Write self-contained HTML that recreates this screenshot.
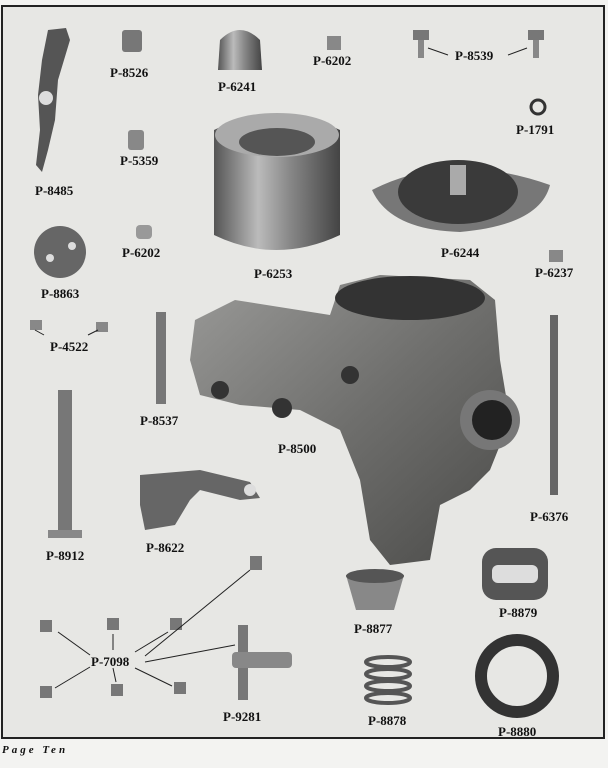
<!DOCTYPE html>
<html><head><meta charset="utf-8"><style>
html,body{margin:0;padding:0;background:#f3f3f1;}
svg{display:block}
text{font-family:"Liberation Serif",serif;font-weight:bold;font-size:13px;fill:#111}
</style></head><body>
<svg width="608" height="768" viewBox="0 0 608 768" xmlns="http://www.w3.org/2000/svg">
<defs>
<linearGradient id="cyl" x1="0" x2="1"><stop offset="0" stop-color="#555"/><stop offset=".35" stop-color="#bbb"/><stop offset=".6" stop-color="#888"/><stop offset="1" stop-color="#444"/></linearGradient>
<linearGradient id="body" x1="0" x2="1" y1="0" y2="1"><stop offset="0" stop-color="#9a9a98"/><stop offset=".5" stop-color="#6f6f6d"/><stop offset="1" stop-color="#4a4a48"/></linearGradient>
</defs>
<rect x="2" y="6" width="602" height="732" fill="#e7e7e4" stroke="#222" stroke-width="2"/>
<!-- P-8485 lever -->
<path d="M48 30 L66 28 L70 40 L58 80 L55 120 L48 150 L42 172 L36 165 L40 130 L38 95 L42 60 Z" fill="#555"/>
<circle cx="46" cy="98" r="7" fill="#ddd"/>
<!-- small parts top row -->
<rect x="122" y="30" width="20" height="22" rx="3" fill="#777"/>
<path d="M220 40 Q240 20 260 40 L262 70 L218 70 Z" fill="url(#cyl)"/>
<rect x="327" y="36" width="14" height="14" fill="#888"/>
<rect x="413" y="30" width="16" height="10" fill="#777"/><rect x="418" y="40" width="6" height="18" fill="#888"/>
<rect x="528" y="30" width="16" height="10" fill="#777"/><rect x="533" y="40" width="6" height="18" fill="#888"/>
<circle cx="538" cy="107" r="7" fill="none" stroke="#333" stroke-width="3"/>
<rect x="128" y="130" width="16" height="20" rx="3" fill="#888"/>
<rect x="136" y="225" width="16" height="14" rx="4" fill="#999"/>
<!-- P-6253 cylinder -->
<path d="M214 130 Q276 100 340 130 L340 235 Q276 265 214 235 Z" fill="url(#cyl)"/>
<ellipse cx="277" cy="135" rx="62" ry="22" fill="#aaa"/><ellipse cx="277" cy="142" rx="38" ry="14" fill="#555"/>
<!-- P-6244 cover -->
<path d="M372 190 Q450 150 550 185 Q540 225 460 232 Q390 230 372 190Z" fill="#777"/>
<ellipse cx="458" cy="192" rx="60" ry="32" fill="#3a3a3a"/>
<rect x="450" y="165" width="16" height="30" fill="#aaa"/>
<rect x="549" y="250" width="14" height="12" fill="#888"/>
<!-- P-8863 -->
<circle cx="60" cy="252" r="26" fill="#666"/><circle cx="50" cy="258" r="4" fill="#ddd"/><circle cx="72" cy="246" r="4" fill="#ddd"/>
<rect x="30" y="320" width="12" height="10" fill="#888"/><rect x="96" y="322" width="12" height="10" fill="#888"/>
<!-- P-8537 -->
<rect x="156" y="312" width="10" height="92" fill="#777"/>
<!-- P-8500 carb body -->
<path d="M195 320 L235 300 L330 315 L340 285 L380 275 L470 280 L495 300 L500 360 L510 420 L490 470 L470 490 L440 505 L430 560 L390 565 L370 540 L360 480 L340 430 L300 410 L240 405 L200 395 L190 360 Z" fill="url(#body)"/>
<ellipse cx="410" cy="298" rx="75" ry="22" fill="#333"/>
<circle cx="490" cy="420" r="30" fill="#777"/><circle cx="492" cy="420" r="20" fill="#222"/>
<circle cx="282" cy="408" r="10" fill="#333"/><circle cx="350" cy="375" r="9" fill="#333"/><circle cx="220" cy="390" r="9" fill="#333"/>
<!-- P-6376 -->
<rect x="550" y="315" width="8" height="180" fill="#666"/>
<!-- P-8912 -->
<rect x="58" y="390" width="14" height="142" fill="#777"/><rect x="48" y="530" width="34" height="8" fill="#888"/>
<!-- P-8622 -->
<path d="M140 475 L200 470 L250 482 L260 498 L240 500 L200 490 L190 500 L175 525 L145 530 L140 505 Z" fill="#666"/>
<circle cx="250" cy="490" r="6" fill="#ddd"/>
<!-- P-8879 -->
<rect x="482" y="548" width="66" height="52" rx="14" fill="#555"/><rect x="492" y="565" width="46" height="18" rx="6" fill="#ddd"/>
<!-- P-8877 -->
<path d="M346 575 L404 575 L394 610 L356 610 Z" fill="#888"/><ellipse cx="375" cy="576" rx="29" ry="7" fill="#555"/>
<!-- P-7098 pieces and lines -->
<g fill="#777"><rect x="40" y="620" width="12" height="12"/><rect x="107" y="618" width="12" height="12"/><rect x="170" y="618" width="12" height="12"/><rect x="250" y="556" width="12" height="14"/><rect x="40" y="686" width="12" height="12"/><rect x="111" y="684" width="12" height="12"/><rect x="174" y="682" width="12" height="12"/></g>
<g stroke="#222" stroke-width="1" fill="none">
<line x1="90" y1="655" x2="58" y2="632"/><line x1="113" y1="650" x2="113" y2="634"/><line x1="135" y1="652" x2="168" y2="632"/><line x1="145" y1="656" x2="250" y2="570"/><line x1="145" y1="662" x2="235" y2="645"/><line x1="90" y1="667" x2="55" y2="688"/><line x1="113" y1="668" x2="116" y2="682"/><line x1="135" y1="668" x2="172" y2="686"/>
<line x1="448" y1="55" x2="428" y2="48"/><line x1="508" y1="55" x2="527" y2="48"/>
<line x1="44" y1="335" x2="35" y2="330"/><line x1="88" y1="335" x2="98" y2="330"/>
</g>
<!-- P-9281 -->
<rect x="238" y="625" width="10" height="75" fill="#777"/><rect x="232" y="652" width="60" height="16" rx="4" fill="#888"/>
<!-- P-8878 spring -->
<g stroke="#555" stroke-width="4" fill="none"><ellipse cx="388" cy="662" rx="22" ry="5"/><ellipse cx="388" cy="674" rx="22" ry="5"/><ellipse cx="388" cy="686" rx="22" ry="5"/><ellipse cx="388" cy="698" rx="22" ry="5"/></g>
<!-- P-8880 ring -->
<circle cx="517" cy="676" r="36" fill="none" stroke="#333" stroke-width="12"/>
<!-- labels -->
<text x="110" y="77">P-8526</text>
<text x="218" y="91">P-6241</text>
<text x="313" y="65">P-6202</text>
<text x="455" y="60">P-8539</text>
<text x="516" y="134">P-1791</text>
<text x="120" y="165">P-5359</text>
<text x="35" y="195">P-8485</text>
<text x="122" y="257">P-6202</text>
<text x="254" y="278">P-6253</text>
<text x="441" y="257">P-6244</text>
<text x="535" y="277">P-6237</text>
<text x="41" y="298">P-8863</text>
<text x="50" y="351">P-4522</text>
<text x="140" y="425">P-8537</text>
<text x="278" y="453">P-8500</text>
<text x="530" y="521">P-6376</text>
<text x="46" y="560">P-8912</text>
<text x="146" y="552">P-8622</text>
<text x="499" y="617">P-8879</text>
<text x="354" y="633">P-8877</text>
<text x="91" y="666">P-7098</text>
<text x="223" y="721">P-9281</text>
<text x="368" y="725">P-8878</text>
<text x="498" y="736">P-8880</text>
<text x="2" y="753" style="font-style:italic;font-size:11px;letter-spacing:3px">Page Ten</text>
</svg>
</body></html>
